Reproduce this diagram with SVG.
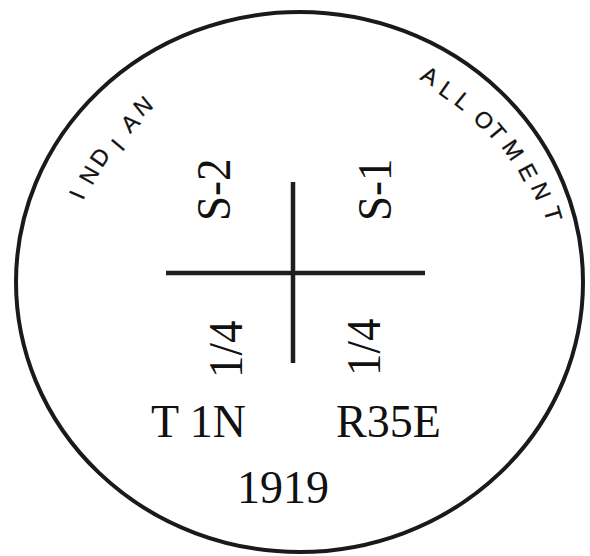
<svg xmlns="http://www.w3.org/2000/svg" width="590" height="556" viewBox="0 0 590 556">
<style>
.ring{fill:none;stroke:#1a1a1a;stroke-width:4}
.ln{stroke:#1e1e1e;stroke-width:4.5;stroke-linecap:butt}
.serif{font-family:"Liberation Serif","Times New Roman",serif;font-size:46px;fill:#111}
.rot{font-family:"Liberation Serif","Times New Roman",serif;font-size:45px;fill:#111}
.arc{font-family:"Liberation Sans",Arial,sans-serif;font-size:23px;fill:#111;stroke:#111;stroke-width:0.3;text-anchor:middle}
</style>
<rect width="590" height="556" fill="#fff"/>
<g id="ring"><ellipse class="ring" cx="299.5" cy="282" rx="283.5" ry="270"/></g>
<g id="connectors">
<line class="ln" x1="293" y1="182" x2="293" y2="363"/>
<line class="ln" x1="166" y1="273" x2="425" y2="273"/>
</g>
<g id="indian">
<text class="arc" transform="translate(77,195) rotate(-66.7)" y="8">I</text>
<text class="arc" transform="translate(89,175) rotate(-60.7)" y="8">N</text>
<text class="arc" transform="translate(100,157) rotate(-55.4)" y="8">D</text>
<text class="arc" transform="translate(118,145) rotate(-50.2)" y="8">I</text>
<text class="arc" transform="translate(130,123) rotate(-44)" y="8">A</text>
<text class="arc" transform="translate(143,106) rotate(-38.9)" y="8">N</text>
</g>
<g id="allotment">
<text class="arc" transform="translate(430,76) rotate(29.9)" y="8">A</text>
<text class="arc" transform="translate(447,90) rotate(34.9)" y="8">L</text>
<text class="arc" transform="translate(463,101) rotate(39.3)" y="8">L</text>
<text class="arc" transform="translate(484,120) rotate(45.9)" y="8">O</text>
<text class="arc" transform="translate(497,132) rotate(50.1)" y="8">T</text>
<text class="arc" transform="translate(513,150) rotate(55.7)" y="8">M</text>
<text class="arc" transform="translate(528,172) rotate(62)" y="8">E</text>
<text class="arc" transform="translate(541,191) rotate(67.4)" y="8">N</text>
<text class="arc" transform="translate(553,214) rotate(73.5)" y="8">T</text>
</g>
<g id="s2"><text class="rot" transform="translate(229.5,221) rotate(-90) scale(1,1.1)">S-2</text></g>
<g id="s1"><text class="rot" transform="translate(391,221) rotate(-90) scale(1,1.1)">S-1</text></g>
<g id="q-left"><text class="rot" transform="translate(242,378) rotate(-90) scale(1,1.1)">1/4</text></g>
<g id="q-right"><text class="rot" transform="translate(380,376) rotate(-90) scale(1,1.1)">1/4</text></g>
<g id="township"><text class="serif" x="151" y="437">T 1N</text></g>
<g id="range"><text class="serif" x="336" y="437">R35E</text></g>
<g id="year"><text class="serif" x="237" y="503">1919</text></g>
</svg>
